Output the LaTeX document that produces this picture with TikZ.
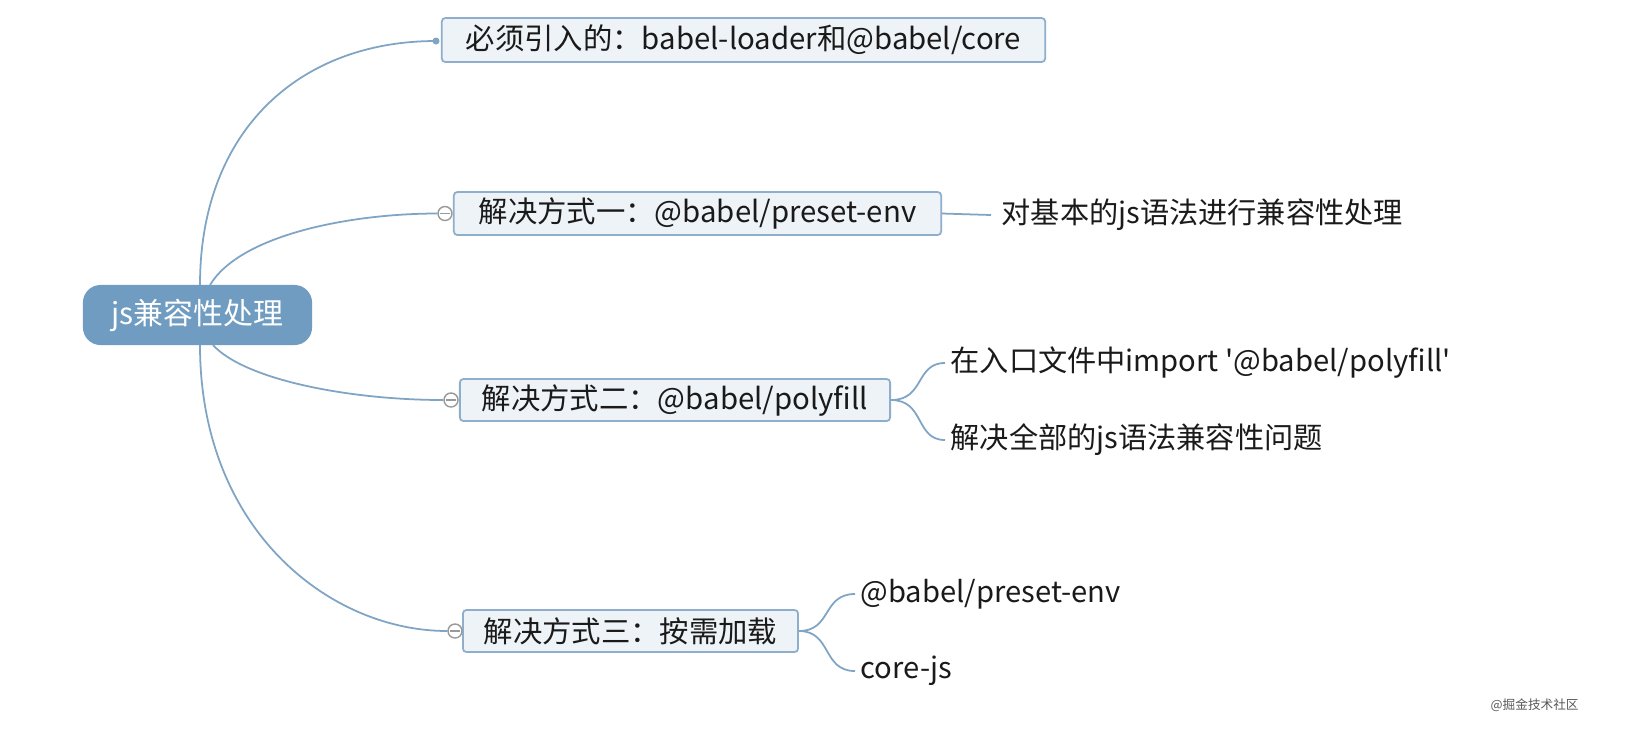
\documentclass[tikz,border=0pt]{standalone}
\usepackage{fontspec}
\setmainfont{Noto Sans CJK SC}[Ligatures=TeXOff]
\definecolor{rootfill}{HTML}{6F9CC0}
\definecolor{boxfill}{HTML}{EEF3F7}
\definecolor{boxdraw}{HTML}{8EAECB}
\definecolor{linec}{HTML}{7FA4C4}
\definecolor{txt}{HTML}{1A1A1A}
\begin{document}
\begin{tikzpicture}[x=0.01cm,y=-0.01cm,
  topicbox/.style={draw=boxdraw,fill=boxfill,line width=0.5pt,rounded corners=1pt,inner sep=0pt,text=txt,font=\fontsize{8.35}{10}\selectfont},
  leaf/.style={anchor=west,inner sep=0pt,text=txt,font=\fontsize{8.3}{10}\selectfont},
  conn/.style={draw=linec,line width=0.5pt},
  fold/.style={circle,draw=gray!80,fill=white,line width=0.4pt,minimum size=0.14cm,inner sep=0pt},
  dotmark/.style={circle,fill=linec,minimum size=0.07cm,inner sep=0pt}
]
\useasboundingbox (0,0) rectangle (1638,729);
\fill[white] (0,0) rectangle (1638,729);

% root
\node[fill=rootfill,rounded corners=5pt,text=white,inner sep=0pt,minimum width=2.29cm,minimum height=0.60cm,font=\fontsize{8.5}{10}\selectfont] (root) at (197.5,315) {js兼容性处理};

% topics
\node[topicbox,minimum width=6.03cm,minimum height=0.44cm] (t1) at (743.5,40) {必须引入的：babel-loader和@babel/core};
\node[topicbox,minimum width=4.87cm,minimum height=0.43cm] (t2) at (697.5,213.5) {解决方式一：@babel/preset-env};
\node[topicbox,minimum width=4.30cm,minimum height=0.42cm] (t3) at (675,400) {解决方式二：@babel/polyfill};
\node[topicbox,minimum width=3.35cm,minimum height=0.42cm] (t4) at (630.5,631) {解决方式三：按需加载};

% markers
\node[dotmark] (m1) at (436,41) {};
\node[fold] (m2) at (445,213.5) {};
\node[fold] (m3) at (451,400) {};
\node[fold] (m4) at (455,631) {};
\foreach \m in {m2,m3,m4}{\draw[gray!80,line width=0.4pt] ([xshift=-0.045cm]\m.center) -- ([xshift=0.045cm]\m.center);}

% root connectors
\coordinate (r1) at (200,285);
\coordinate (r2) at (210,285);
\coordinate (r3) at (213,345);
\coordinate (r4) at (200,345);
\draw[conn] (r1) .. controls (200,130) and (300,41) .. (m1.center);
\draw[conn] (r2) .. controls (240,235) and (350,213.5) .. (m2.west);
\draw[conn] (r3) .. controls (245,380) and (350,400) .. (m3.west);
\draw[conn] (r4) .. controls (200,530) and (330,631) .. (m4.west);

% leaves
\node[leaf] (l2) at (1001,215) {对基本的js语法进行兼容性处理};
\node[leaf] (l31) at (950,363) {在入口文件中import '@babel/polyfill'};
\node[leaf] (l32) at (950,440) {解决全部的js语法兼容性问题};
\node[leaf] (l41) at (860,594) {@babel/preset-env};
\node[leaf] (l42) at (860,671) {core-js};

\draw[conn] (t2.east) -- ([xshift=-0.1cm]l2.west);
\draw[conn] (t3.east) .. controls (925,400) and (915,363) .. ([xshift=-0.05cm]l31.west);
\draw[conn] (t3.east) .. controls (925,400) and (915,440) .. ([xshift=-0.05cm]l32.west);
\draw[conn] (t4.east) .. controls (832,631) and (822,594) .. ([xshift=-0.05cm]l41.west);
\draw[conn] (t4.east) .. controls (832,631) and (822,671) .. ([xshift=-0.05cm]l42.west);

% watermark
\node[anchor=west,inner sep=0pt,text=gray!70!black,font=\fontsize{3.6}{4}\selectfont] (wm) at (1490,705) {@掘金技术社区};
\end{tikzpicture}
\end{document}
